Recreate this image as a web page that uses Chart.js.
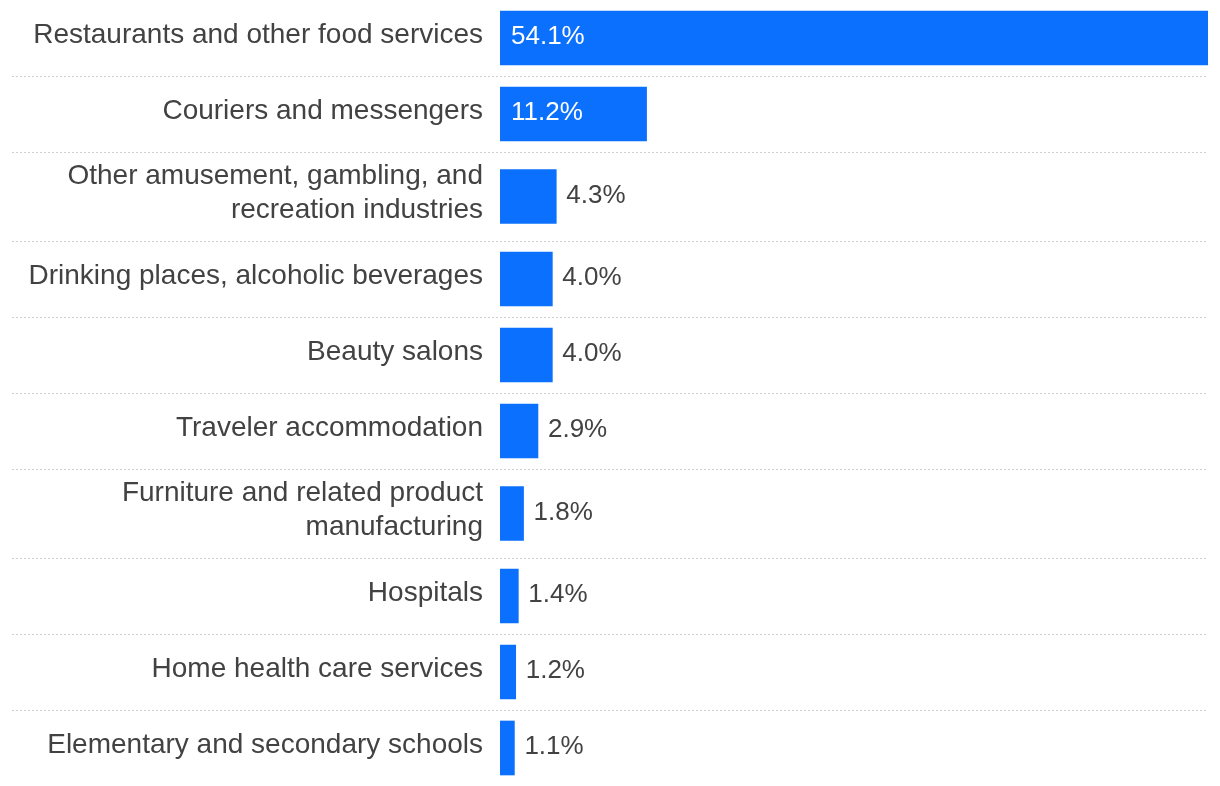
<!DOCTYPE html>
<html>
<head>
<meta charset="utf-8">
<script src="https://cdn.jsdelivr.net/npm/chart.js@4/dist/chart.umd.min.js"></script>
<style>
  html, body { margin: 0; padding: 0; background: #ffffff; }
  #wrap { position: relative; width: 1220px; height: 786px; }
</style>
</head>
<body>
<div id="wrap"><canvas id="c"></canvas></div>
<script>
// ---- Data ----
const categories = [
  ["Restaurants and other food services"],
  ["Couriers and messengers"],
  ["Other amusement, gambling, and", "recreation industries"],
  ["Drinking places, alcoholic beverages"],
  ["Beauty salons"],
  ["Traveler accommodation"],
  ["Furniture and related product", "manufacturing"],
  ["Hospitals"],
  ["Home health care services"],
  ["Elementary and secondary schools"]
];
const shares = [54.1, 11.2, 4.3, 4.0, 4.0, 2.9, 1.8, 1.4, 1.2, 1.1];
const valueLabels = ["54.1%", "11.2%", "4.3%", "4.0%", "4.0%", "2.9%", "1.8%", "1.4%", "1.2%", "1.1%"];

// ---- Style ----
const BAR_COLOR = '#0b70fd';
const TEXT_COLOR = '#424242';
const FONT_FAMILY = '"Liberation Sans", Arial, Helvetica, sans-serif';
const EXTRA_LINE_WEIGHT = 0.17; // taller rows for wrapped labels

// Row layout derived from label line counts
const rowWeights = categories.map(l => 1 + EXTRA_LINE_WEIGHT * (l.length - 1));
const boundaries = [0];
rowWeights.forEach(w => boundaries.push(boundaries[boundaries.length - 1] + w));
const centers = rowWeights.map((w, i) => boundaries[i] + w / 2);
const total = boundaries[boundaries.length - 1];

const rowLines = {
  id: 'rowLines',
  beforeDatasetsDraw(chart) {
    const ctx = chart.ctx;
    const y = chart.scales.y;
    ctx.save();
    ctx.strokeStyle = '#cfcfcf';
    ctx.lineWidth = 1;
    ctx.setLineDash([2, 2]);
    for (let i = 1; i < boundaries.length - 1; i++) {
      const py = Math.round(y.getPixelForValue(boundaries[i])) + 0.5;
      ctx.beginPath();
      ctx.moveTo(12, py);
      ctx.lineTo(chart.chartArea.right, py);
      ctx.stroke();
    }
    ctx.restore();
  }
};

const barValues = {
  id: 'barValues',
  afterDatasetsDraw(chart) {
    const ctx = chart.ctx;
    const meta = chart.getDatasetMeta(0);
    ctx.save();
    ctx.font = '26px ' + FONT_FAMILY;
    ctx.textBaseline = 'middle';
    ctx.textAlign = 'left';
    meta.data.forEach((bar, i) => {
      const txt = valueLabels[i];
      const w = ctx.measureText(txt).width;
      const barW = bar.x - bar.base;
      if (barW > w + 30) {
        ctx.fillStyle = '#ffffff';
        ctx.fillText(txt, bar.base + 11, bar.y - 1);
      } else {
        ctx.fillStyle = TEXT_COLOR;
        ctx.fillText(txt, bar.x + 10, bar.y - 1);
      }
    });
    ctx.restore();
  }
};

new Chart(document.getElementById('c'), {
  type: 'bar',
  data: {
    datasets: [{
      data: shares.map((v, i) => ({ x: v, y: centers[i] })),
      backgroundColor: BAR_COLOR,
      borderWidth: 0,
      barThickness: 54
    }]
  },
  options: {
    indexAxis: 'y',
    responsive: true,
    maintainAspectRatio: false,
    animation: false,
    layout: { padding: { left: 0, right: 12, top: 0, bottom: 0 } },
    plugins: { legend: { display: false }, tooltip: { enabled: false } },
    scales: {
      x: {
        type: 'linear',
        display: false,
        min: 0,
        max: Math.max(...shares)
      },
      y: {
        type: 'linear',
        offset: false,
        min: 0,
        max: total,
        reverse: true,
        grid: { display: false, drawTicks: false, offset: false },
        border: { display: false },
        afterBuildTicks(scale) {
          scale.ticks = centers.map(v => ({ value: v }));
        },
        afterFit(scale) {
          scale.width = 500;
          scale.paddingTop = 0;
          scale.paddingBottom = 0;
        },
        ticks: {
          autoSkip: false,
          padding: 17,
          labelOffset: -3,
          color: TEXT_COLOR,
          font: { family: FONT_FAMILY, size: 28, lineHeight: 1.2 },
          callback: (value, index) => categories[index]
        }
      }
    }
  },
  plugins: [rowLines, barValues]
});
</script>
</body>
</html>
